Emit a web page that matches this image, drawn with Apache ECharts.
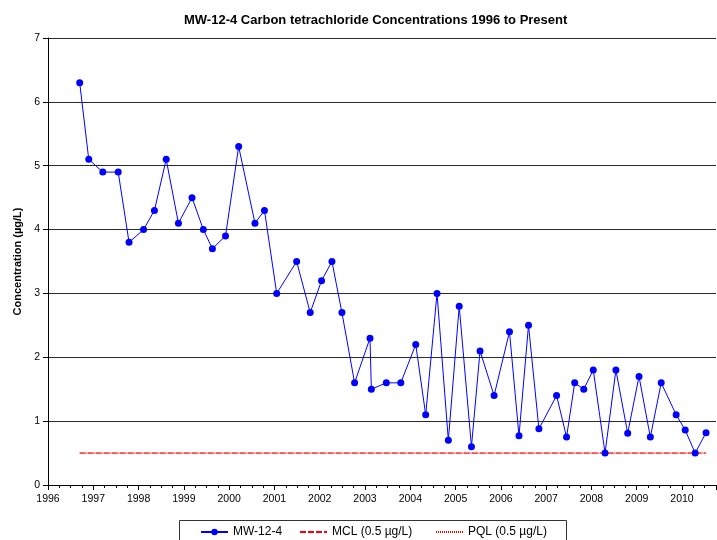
<!DOCTYPE html>
<html>
<head>
<meta charset="utf-8">
<script src="https://cdn.jsdelivr.net/npm/echarts@6/dist/echarts.min.js"></script>
<style>
  html, body { margin: 0; padding: 0; background: #fff; }
  #mw-chart { width: 717px; height: 540px; }
</style>
</head>
<body>
<div id="mw-chart"></div>
<script>
// sample dates as decimal years
var sampleDates = [1996.70, 1996.90, 1997.21, 1997.55, 1997.79, 1998.11, 1998.35, 1998.61, 1998.88, 1999.18,
	1999.43, 1999.63, 1999.92, 2000.21, 2000.57, 2000.78, 2001.05, 2001.49, 2001.79, 2002.04,
	2002.27, 2002.49, 2002.77, 2003.11, 2003.14, 2003.47, 2003.79, 2004.12, 2004.34, 2004.59,
	2004.84, 2005.08, 2005.35, 2005.54, 2005.85, 2006.19, 2006.40, 2006.61, 2006.84, 2007.23,
	2007.45, 2007.63, 2007.83, 2008.04, 2008.30, 2008.54, 2008.80, 2009.05, 2009.30, 2009.54,
	2009.87, 2010.07, 2010.29, 2010.53];
// MW-12-4 concentrations (ug/L)
var concentrations = [6.3, 5.1, 4.9, 4.9, 3.8, 4.0, 4.3, 5.1, 4.1, 4.5,
	4.0, 3.7, 3.9, 5.3, 4.1, 4.3, 3.0, 3.5, 2.7, 3.2,
	3.5, 2.7, 1.6, 2.3, 1.5, 1.6, 1.6, 2.2, 1.1, 3.0,
	0.7, 2.8, 0.6, 2.1, 1.4, 2.4, 0.77, 2.5, 0.88, 1.4,
	0.75, 1.6, 1.5, 1.8, 0.5, 1.8, 0.81, 1.7, 0.75, 1.6,
	1.1, 0.86, 0.5, 0.82];
var mclValue = 0.5;
var pqlValue = 0.5;
var seriesNames = ['MW-12-4', 'MCL (0.5 \u00b5g/L)', 'PQL (0.5 \u00b5g/L)'];

var font = "'Liberation Sans', Arial, sans-serif";

var wellData = sampleDates.map(function (d, i) { return [d, concentrations[i]]; });
var firstDate = sampleDates[0];
var lastDate = sampleDates[sampleDates.length - 1];

// legend entries for the limit lines: line only, no marker
function limitLegend(name, left) {
	return {
		data: [{ name: name, itemStyle: { opacity: 0 } }],
		left: left, top: 526, padding: 0, itemWidth: 27, itemHeight: 8,
		textStyle: { fontFamily: font, fontSize: 12, color: '#000' }
	};
}

var chart = echarts.init(document.getElementById('mw-chart'));
chart.setOption({
	animation: false,
	title: {
		text: 'MW-12-4 Carbon tetrachloride Concentrations 1996 to Present',
		left: 179,
		top: 9,
		textStyle: { fontFamily: font, fontSize: 13, fontWeight: 'bold', color: '#000' }
	},
	legend: [
		{ data: [seriesNames[0]], left: 200, top: 526, padding: 0, itemWidth: 27, itemHeight: 8,
			textStyle: { fontFamily: font, fontSize: 12, color: '#000' } },
		limitLegend(seriesNames[1], 299),
		limitLegend(seriesNames[2], 435)
	],
	graphic: [{
		type: 'rect',
		shape: { x: 179.5, y: 520.5, width: 387, height: 30 },
		style: { fill: 'none', stroke: '#333', lineWidth: 1 },
		silent: true
	}],
	grid: { left: 48, top: 38, width: 668, height: 447 },
	xAxis: {
		type: 'value',
		min: 1996,
		max: 2010.75,
		interval: 1,
		axisLine: { lineStyle: { color: '#000', width: 1 } },
		axisTick: { show: true, length: 5, lineStyle: { color: '#000' } },
		minorTick: { show: true, splitNumber: 4, length: 3, lineStyle: { color: '#000' } },
		splitLine: { show: false },
		axisLabel: {
			margin: 9,
			fontFamily: font,
			fontSize: 10.5,
			color: '#000',
			showMaxLabel: false,
			formatter: function (v) { return Math.abs(v - Math.round(v)) < 1e-6 ? String(Math.round(v)) : ''; }
		}
	},
	yAxis: {
		type: 'value',
		min: 0,
		max: 7,
		interval: 1,
		name: 'Concentration (\u00b5g/L)',
		nameLocation: 'middle',
		nameGap: 25,
		nameTextStyle: { fontFamily: font, fontSize: 11, fontWeight: 'bold', color: '#000' },
		axisLine: { show: true, lineStyle: { color: '#000', width: 1 } },
		axisTick: { show: true, length: 5, lineStyle: { color: '#000' } },
		splitLine: { show: true, lineStyle: { color: '#2a2a2a', width: 1 } },
		axisLabel: { margin: 8, fontFamily: font, fontSize: 10.5, color: '#000' }
	},
	series: [
		{
			name: seriesNames[0],
			type: 'line',
			data: wellData,
			symbol: 'circle',
			symbolSize: 7,
			itemStyle: { color: '#0000ff' },
			lineStyle: { color: '#0000ff', width: 1 },
			z: 3
		},
		{
			name: seriesNames[1],
			type: 'line',
			data: [[firstDate, mclValue], [lastDate, mclValue]],
			symbol: 'none',
			itemStyle: { color: '#ff0000' },
			lineStyle: { color: '#ff0000', width: 1, type: [6, 2] },
			z: 2
		},
		{
			name: seriesNames[2],
			type: 'line',
			data: [[firstDate, pqlValue], [lastDate, pqlValue]],
			symbol: 'none',
			itemStyle: { color: '#ff0000' },
			lineStyle: { color: '#ff0000', width: 1, type: [1, 1] },
			z: 2
		}
	]
});
</script>
</body>
</html>
